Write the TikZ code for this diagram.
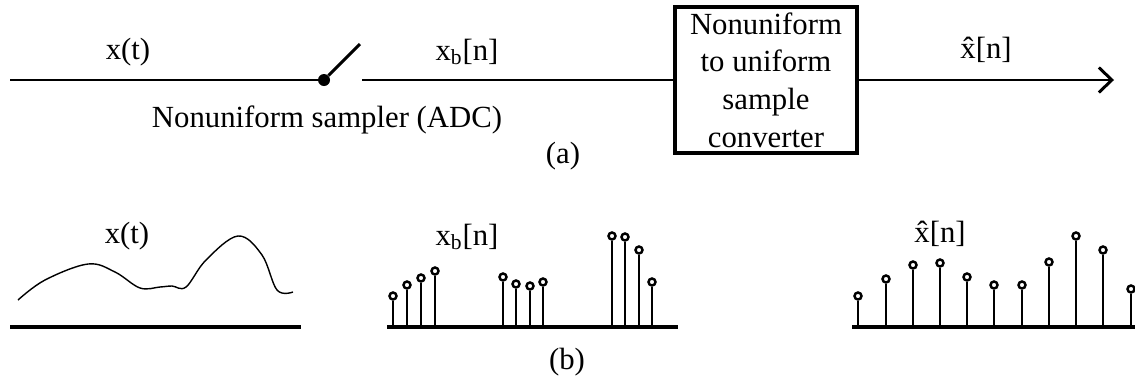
\documentclass[tikz,border=0pt]{standalone}
\usepackage{fontspec}
\setmainfont{Liberation Serif}
\usepackage{tikz}
\usetikzlibrary{arrows.meta,positioning}

\begin{document}
\begin{tikzpicture}[
    x=0.02cm, y=-0.02cm,
    font=\fontsize{17.5}{21}\selectfont,
    wire/.style={line width=1.7pt},
    axisline/.style={line width=2pt},
    stemline/.style={line width=1.6pt},
    stemtip/.style={circle, draw, fill=white, line width=1.4pt, inner sep=0pt, minimum size=0.14cm},
    swdot/.style={circle, fill, inner sep=0pt, minimum size=0.24cm},
    convbox/.style={draw, line width=1.8pt, align=center, minimum width=3.64cm, minimum height=2.92cm, inner sep=0pt, font=\fontsize{17.5}{21.5}\selectfont}
]
\useasboundingbox (0,0) rectangle (1135,383);

% (a) block diagram
\coordinate (in) at (10,80);
\node[swdot] (sw) at (324,80) {};
\coordinate (swtip) at (360,44);
\coordinate (swout) at (362,80);
\node[convbox] (conv) at (766,80) {Nonuniform\\to uniform\\sample\\converter};
\coordinate (out) at (1114,80);

\draw[wire] (in) -- (sw);
\draw[wire] (sw) -- (swtip);
\draw[wire] (swout) -- (conv.west);
\draw[wire, -{Straight Barb[length=2.6mm, width=5mm]}] (conv.east) -- (out);

\node (xt) at (128,52) {x(t)};
\node (xb) at (467,52) {x\textsubscript{b}[n]};
\node (xh) at (986,50) {\^{x}[n]};
\node (adc) at (327,120) {Nonuniform sampler (ADC)};
\node (lba) at (563,156) {(a)};

% (b) signals
\coordinate (a1) at (10,327);
\coordinate (a2) at (301,327);
\draw[axisline] (a1) -- (a2);
\draw[line width=0.8pt] plot[smooth, tension=0.6] coordinates {
    (18,300) (45,280) (88,264) (115,272) (140,288) (160,287) (172,286) (186,287)
    (206,260) (238,236) (262,255) (277,290) (293,292)};
\node (xt2) at (127,236) {x(t)};

\coordinate (b1) at (387,327);
\coordinate (b2) at (678,327);
\draw[axisline] (b1) -- (b2);
\foreach \x/\y [count=\i] in {393/296,407/285,421/278,435/271,503/277,516/284,530/286,543/282,612/236,625/237,639/250,652/282}{
    \node[stemtip] (m\i) at (\x,\y) {};
    \draw[stemline] (\x,327) -- (m\i);
}
\node (xb2) at (467,237) {x\textsubscript{b}[n]};

\coordinate (c1) at (852,327);
\coordinate (c2) at (1135,327);
\draw[axisline] (c1) -- (c2);
\foreach \x/\y [count=\i] in {858/296,886/279,913/265,940/263,967/277,994/285,1022/285,1049/262,1076/236,1103/250,1131/289}{
    \node[stemtip] (u\i) at (\x,\y) {};
    \draw[stemline] (\x,327) -- (u\i);
}
\node (xh2) at (940,234) {\^{x}[n]};

\node (lbb) at (567,362) {(b)};
\end{tikzpicture}
\end{document}
